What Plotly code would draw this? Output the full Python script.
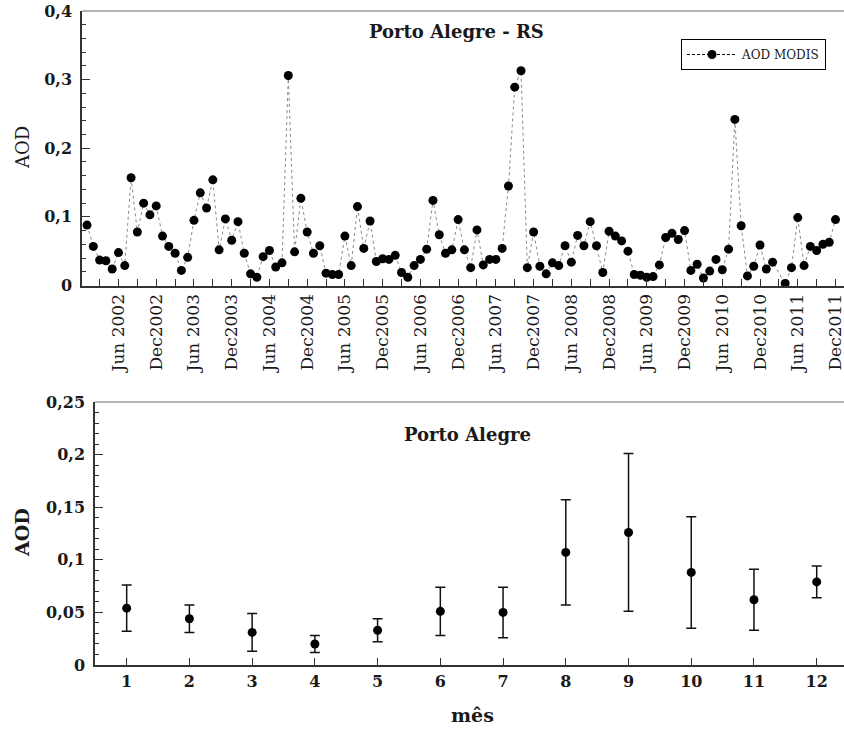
import plotly.graph_objects as go

# ---------------- data ----------------
# Monthly AOD MODIS, Porto Alegre - RS, Jan 2002 .. Dec 2011 (index 0 = Jan 2002)
aod_monthly = [
    0.088, 0.057, 0.037, 0.036, 0.024, 0.048, 0.029, 0.157, 0.078, 0.120, 0.103, 0.116,  # 2002
    0.072, 0.057, 0.047, 0.022, 0.041, 0.095, 0.135, 0.113, 0.154, 0.052, 0.097, 0.066,  # 2003
    0.093, 0.047, 0.017, 0.012, 0.042, 0.051, 0.027, 0.033, 0.306, 0.049, 0.127, 0.078,  # 2004
    0.047, 0.058, 0.018, 0.016, 0.016, 0.072, 0.029, 0.115, 0.054, 0.094, 0.035, 0.039,  # 2005
    0.038, 0.044, 0.019, 0.012, 0.029, 0.038, 0.053, 0.124, 0.074, 0.047, 0.052, 0.096,  # 2006
    0.052, 0.026, 0.081, 0.030, 0.038, 0.038, 0.054, 0.145, 0.289, 0.313, 0.026, 0.078,  # 2007
    0.028, 0.017, 0.033, 0.029, 0.058, 0.034, 0.073, 0.058, 0.093, 0.058, 0.019, 0.079,  # 2008
    0.072, 0.065, 0.050, 0.016, 0.015, 0.012, 0.013, 0.030, 0.070, 0.076, 0.067, 0.080,  # 2009
    0.022, 0.031, 0.011, 0.021, 0.038, 0.023, 0.053, 0.242, 0.087, 0.014, 0.028, 0.059,  # 2010
    0.024, 0.034, None, 0.003, 0.026, 0.099, 0.029, 0.057, 0.051, 0.060, 0.063, 0.096,   # 2011
]
month_index = list(range(len(aod_monthly)))

# tick positions every 3 months (Mar, Jun, Sep, Dec) – labels only on Jun / Dec
top_tick_index = list(range(2, 120, 3))
top_tick_labels = []
for idx in top_tick_index:
    yr = 2002 + idx // 12
    m = idx % 12
    if m == 5:
        top_tick_labels.append(f"Jun {yr}")
    elif m == 11:
        top_tick_labels.append(f"Dec{yr}")
    else:
        top_tick_labels.append("")

top_y_ticks = [0, 0.1, 0.2, 0.3, 0.4]
top_y_labels = ["0", "0,1", "0,2", "0,3", "0,4"]

# Monthly climatology (mean +/- std)
mes = [1, 2, 3, 4, 5, 6, 7, 8, 9, 10, 11, 12]
aod_mean = [0.054, 0.044, 0.031, 0.020, 0.033, 0.051, 0.050, 0.107, 0.126, 0.088, 0.062, 0.079]
aod_std = [0.022, 0.013, 0.018, 0.008, 0.011, 0.023, 0.024, 0.050, 0.075, 0.053, 0.029, 0.015]

bot_y_ticks = [0, 0.05, 0.1, 0.15, 0.2, 0.25]
bot_y_labels = ["0", "0,05", "0,1", "0,15", "0,2", "0,25"]

# ---------------- figure ----------------
W, H = 844, 729
SERIF = "DejaVu Serif"
TXT = "#1a1a1a"
AX = "#333333"

fig = go.Figure()

fig.add_trace(go.Scatter(
    x=month_index, y=aod_monthly, mode="lines+markers",
    line=dict(color="#8a8a8a", width=1, dash="dot"),
    marker=dict(color="black", size=9),
    connectgaps=True, showlegend=False, xaxis="x", yaxis="y",
    cliponaxis=False,
))
# legend entry
fig.add_trace(go.Scatter(
    x=[None], y=[None], mode="lines+markers", name="AOD MODIS",
    line=dict(color="black", width=1, dash="3px,2px"),
    marker=dict(color="black", size=9),
    showlegend=True, xaxis="x", yaxis="y",
))

fig.add_trace(go.Scatter(
    x=mes, y=aod_mean, mode="markers",
    marker=dict(color="black", size=9),
    error_y=dict(type="data", array=aod_std, visible=True, color="#111", thickness=1.5, width=5),
    showlegend=False, xaxis="x2", yaxis="y2",
))

def px_x(p):
    return p / W

def px_y(p):
    return 1 - p / H

tickfont_b = dict(family=SERIF, size=16, color=TXT, weight="bold")

fig.update_layout(
    template="none",
    width=W, height=H,
    margin=dict(l=0, r=0, t=0, b=0, pad=0),
    paper_bgcolor="white", plot_bgcolor="white",
    font=dict(family=SERIF, color=TXT),
    xaxis=dict(
        domain=[px_x(82), 1.0], anchor="y", automargin=False,
        range=[-0.8, 120.35],
        tickmode="array", tickvals=top_tick_index, ticktext=top_tick_labels,
        tickangle=-90, ticks="inside", ticklen=7, tickwidth=1.2, tickcolor=AX,
        showline=True, linecolor=AX, linewidth=1.5,
        showgrid=False, zeroline=False, ticklabeloverflow="allow",
        tickfont=dict(family=SERIF, size=17, color=TXT),
    ),
    yaxis=dict(
        domain=[px_y(285.5), px_y(11)], anchor="x", automargin=False,
        range=[0, 0.4],
        tickmode="array", tickvals=top_y_ticks, ticktext=top_y_labels,
        ticks="inside", ticklen=8, tickwidth=1.2, tickcolor=AX,
        minor=dict(dtick=0.02, ticks="inside", ticklen=4, tickwidth=1, tickcolor=AX, showgrid=False),
        showline=True, linecolor=AX, linewidth=1.5,
        showgrid=False, zeroline=False, ticklabeloverflow="allow",
        tickfont=tickfont_b, ticklabelstandoff=5,
    ),
    xaxis2=dict(
        domain=[px_x(95), 1.0], anchor="y2", automargin=False,
        range=[0.495, 12.435],
        tickmode="array", tickvals=mes, ticktext=[str(m) for m in mes],
        ticks="inside", ticklen=7, tickwidth=1.2, tickcolor=AX,
        showline=True, linecolor=AX, linewidth=1.5,
        showgrid=False, zeroline=False, ticklabeloverflow="allow",
        tickfont=tickfont_b, ticklabelstandoff=1,
    ),
    yaxis2=dict(
        domain=[px_y(665), px_y(402)], anchor="x2", automargin=False,
        range=[0, 0.25],
        tickmode="array", tickvals=bot_y_ticks, ticktext=bot_y_labels,
        ticks="inside", ticklen=8, tickwidth=1.2, tickcolor=AX,
        minor=dict(dtick=0.01, ticks="inside", ticklen=4, tickwidth=1, tickcolor=AX, showgrid=False),
        showline=True, linecolor=AX, linewidth=1.5,
        showgrid=False, zeroline=False, ticklabeloverflow="allow",
        tickfont=tickfont_b, ticklabelstandoff=5,
    ),
    legend=dict(
        x=px_x(681), y=px_y(39), xanchor="left", yanchor="top",
        bgcolor="white", bordercolor="black", borderwidth=1,
        font=dict(family=SERIF, size=12, color=TXT),
        itemwidth=50,
    ),
    showlegend=True,
)

# top frame lines (gray)
fig.add_shape(type="line", xref="x domain", yref="y domain", x0=0, x1=1, y0=1, y1=1,
              line=dict(color="#9a9a9a", width=1.5))
fig.add_shape(type="line", xref="x2 domain", yref="y2 domain", x0=0, x1=1, y0=1, y1=1,
              line=dict(color="#9a9a9a", width=1.5))

# titles / labels
def label(text, x, y, size, angle=0):
    fig.add_annotation(text=text, xref="paper", yref="paper", textangle=angle,
                       x=px_x(x), y=px_y(y), xanchor="center", yanchor="middle",
                       showarrow=False, font=dict(family=SERIF, size=size, color=TXT))

label("<b>Porto Alegre - RS</b>", 457, 32, 18)
label("<b>Porto Alegre</b>", 467, 435, 18)
label("AOD", 22, 148, 18, -90)
label("<b>AOD</b>", 22, 533, 19, -90)
label("<b>mês</b>", 472, 715, 19)

fig.write_html(
    "out.html",
    config={"displayModeBar": False},
    post_script="document.body.style.margin='0px';document.body.style.overflow='hidden';",
)
